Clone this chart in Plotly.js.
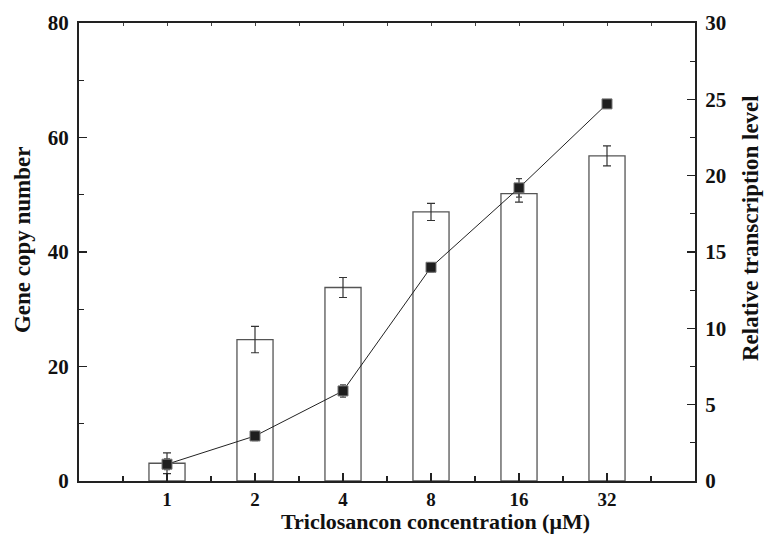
<!DOCTYPE html>
<html>
<head>
<meta charset="utf-8">
<script src="https://cdn.plot.ly/plotly-3.0.1.min.js"></script>
<style>html,body{margin:0;padding:0;background:#fff;}#chart{width:764px;height:537px;}</style>
</head>
<body>
<div id="chart"></div>
<script>
// Data
const concentrations = ['1', '2', '4', '8', '16', '32'];
const geneCopy = [3.1, 24.7, 33.8, 47.0, 50.2, 56.8];
const geneCopyErr = [1.8, 2.3, 1.75, 1.5, 1.5, 1.75];
const transcription = [1.1, 2.95, 5.9, 14.0, 19.2, 24.7];
const transcriptionErr = [0.35, 0.3, 0.4, 0.3, 0.6, 0];

const xIdx = concentrations.map((c, i) => i);
const FONT = 'Liberation Serif, Times New Roman, serif';

const bars = {
  type: 'bar', x: xIdx, y: geneCopy, width: 0.41,
  marker: {color: '#ffffff', line: {color: '#555555', width: 1.3}},
  error_y: {type: 'data', array: geneCopyErr, visible: true, color: '#333333', thickness: 1.2, width: 4},
  xaxis: 'x', yaxis: 'y', showlegend: false, hoverinfo: 'skip'
};
const line = {
  type: 'scatter', mode: 'lines+markers', x: xIdx, y: transcription,
  line: {color: '#222222', width: 1},
  marker: {symbol: 'square', size: 10, color: '#1e1e1e', line: {color: '#777777', width: 1}},
  error_y: {type: 'data', array: transcriptionErr, visible: true, color: '#444444', thickness: 1.2, width: 3},
  xaxis: 'x', yaxis: 'y2', showlegend: false, hoverinfo: 'skip'
};

const tickFont = {family: FONT, size: 21, color: '#111111', weight: 'bold'};
const xTickFont = {family: FONT, size: 19, color: '#111111', weight: 'bold'};
const titleFont = {family: FONT, size: 23, color: '#111111', weight: 'bold'};
const xTitleFont = {family: FONT, size: 22, color: '#111111', weight: 'bold'};

const layout = {
  width: 764, height: 537,
  margin: {l: 79, r: 69, t: 23, b: 56},
  paper_bgcolor: '#ffffff', plot_bgcolor: '#ffffff',
  showlegend: false,
  xaxis: {
    range: [-1, 6], tickmode: 'array', tickvals: xIdx, ticktext: concentrations,
    ticks: 'inside', ticklen: 8, tickwidth: 1.5, tickcolor: '#222',
    minor: {dtick: 0.5, tick0: -0.5, ticks: 'inside', ticklen: 5, tickwidth: 1.3, tickcolor: '#222'},
    showline: true, linecolor: '#222', linewidth: 2, mirror: true,
    showgrid: false, zeroline: false, tickfont: xTickFont, ticklabelstandoff: 0
  },
  xaxis2: {
    overlaying: 'x', side: 'top', range: [-1, 6], dtick: 0.5, tick0: -0.5,
    ticks: 'inside', ticklen: 3, tickwidth: 1, tickcolor: '#444',
    showticklabels: false, showgrid: false, zeroline: false, showline: false
  },
  yaxis: {
    range: [0, 80], dtick: 20, ticks: 'inside', ticklen: 8, tickwidth: 1.5, tickcolor: '#222',
    minor: {dtick: 10, ticks: 'inside', ticklen: 5, tickwidth: 1.3, tickcolor: '#222'},
    showline: true, linecolor: '#222', linewidth: 2,
    showgrid: false, zeroline: false, tickfont: tickFont, ticklabelstandoff: 4
  },
  yaxis2: {
    overlaying: 'y', side: 'right', range: [0, 30], dtick: 5,
    ticks: 'inside', ticklen: 8, tickwidth: 1.5, tickcolor: '#222',
    minor: {dtick: 2.5, ticks: 'inside', ticklen: 5, tickwidth: 1.3, tickcolor: '#222'},
    showline: true, linecolor: '#222', linewidth: 2,
    showgrid: false, zeroline: false, tickfont: tickFont, ticklabelstandoff: 4
  },
  annotations: [
    {xref: 'paper', yref: 'paper', x: 0.578, y: -0.0895, xanchor: 'center', yanchor: 'middle',
     text: 'Triclosancon concentration (μM)', showarrow: false, font: xTitleFont},
    {xref: 'paper', yref: 'paper', x: -0.0925, y: 0.526, xanchor: 'center', yanchor: 'middle',
     textangle: -90, text: 'Gene copy number', showarrow: false, font: titleFont},
    {xref: 'paper', yref: 'paper', x: 1.089, y: 0.552, xanchor: 'center', yanchor: 'middle',
     textangle: -90, text: 'Relative transcription level', showarrow: false, font: titleFont}
  ]
};

// empty trace to activate the top tick axis
const topAxis = {type: 'scatter', x: [], y: [], xaxis: 'x2', yaxis: 'y', showlegend: false, hoverinfo: 'skip'};

Plotly.newPlot('chart', [bars, line, topAxis], layout, {displayModeBar: false, staticPlot: true});
</script>
</body>
</html>
